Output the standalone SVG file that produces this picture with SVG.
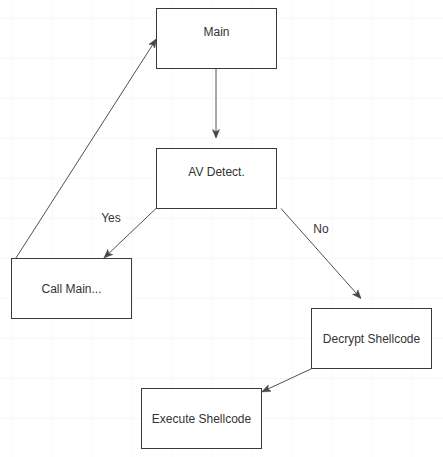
<svg xmlns="http://www.w3.org/2000/svg" width="443" height="457" viewBox="0 0 443 457">
<style>
.box{fill:#ffffff;stroke:#3a3a3a;stroke-width:1}
.lbl{font-family:"Liberation Sans",Arial,sans-serif;font-size:12px;fill:#333333;text-anchor:middle;dominant-baseline:central}
.edge{fill:none;stroke:#505050;stroke-width:1}
</style>
<defs>
<pattern id="grid" x="12" y="18" width="40" height="40" patternUnits="userSpaceOnUse">
<path d="M0 0H40M0 0V40" fill="none" stroke="#f2f2f2" stroke-width="1"/>
</pattern>
<marker id="arr" viewBox="0 0 10 10" refX="9" refY="5" markerWidth="9" markerHeight="9" markerUnits="userSpaceOnUse" orient="auto">
<path d="M0,1 L10,5 L0,9 L2.5,5 Z" fill="#474747" stroke="#474747" stroke-width="0.5"/>
</marker>
</defs>
<rect width="443" height="457" fill="#ffffff"/>
<rect width="443" height="457" fill="url(#grid)"/>
<g id="connectors">
<line class="edge" x1="216" y1="68.5" x2="216" y2="137.5" marker-end="url(#arr)"/>
<line class="edge" x1="156" y1="208.5" x2="104.5" y2="257.5" marker-end="url(#arr)"/>
<line class="edge" x1="281" y1="208.5" x2="360.5" y2="298" marker-end="url(#arr)"/>
<line class="edge" x1="312" y1="368.5" x2="262.5" y2="391.5" marker-end="url(#arr)"/>
<line class="edge" x1="15" y1="259.5" x2="156" y2="39.5" marker-end="url(#arr)"/>
<text class="lbl" x="111" y="218">Yes</text>
<text class="lbl" x="321" y="229">No</text>
</g>
<g id="main"><rect class="box" x="156.5" y="8.5" width="120" height="60"/><text class="lbl" x="216.5" y="32">Main</text></g>
<g id="av"><rect class="box" x="156.5" y="148.5" width="120" height="60"/><text class="lbl" x="216.5" y="172">AV Detect.</text></g>
<g id="callmain"><rect class="box" x="11.5" y="258.5" width="120" height="60"/><text class="lbl" x="71.5" y="288.5">Call Main...</text></g>
<g id="decrypt"><rect class="box" x="311.5" y="308.5" width="120" height="60"/><text class="lbl" x="371.5" y="338.5">Decrypt Shellcode</text></g>
<g id="execute"><rect class="box" x="141.5" y="388.5" width="120" height="60"/><text class="lbl" x="201.5" y="418.5">Execute Shellcode</text></g>
</svg>
